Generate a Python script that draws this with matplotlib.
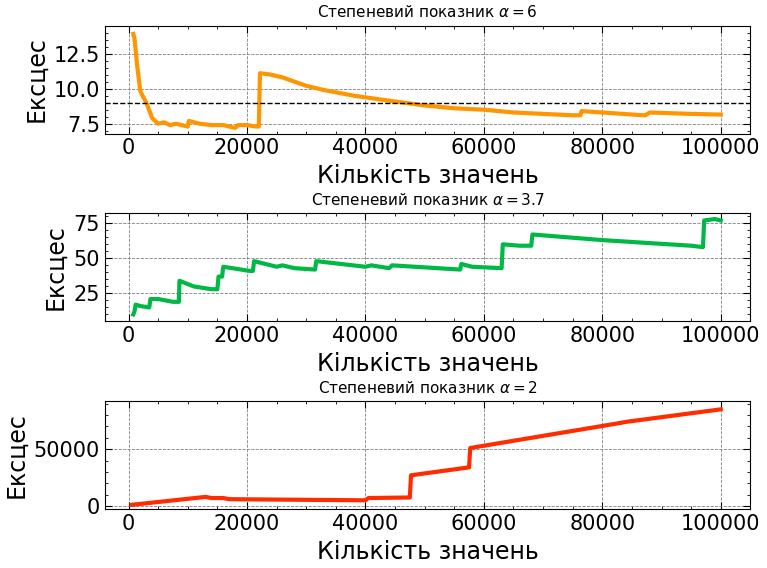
import matplotlib.pyplot as plt

# alpha = 6
x1 = [800, 1000, 1500, 2000, 3000, 4000, 5000, 6000, 7000, 8000, 9000, 10000, 10200, 12000, 14000,
      16000, 18000, 18500, 20000, 21500, 22000, 22200, 24000, 26000, 28000, 30000, 33000, 38000,
      43000, 50000, 55000, 60000, 65000, 70000, 75000, 76300, 76500, 80000, 87000, 87300, 88000,
      95000, 100000]
y1 = [13.9, 13.6, 11.5, 9.8, 9.0, 7.9, 7.5, 7.6, 7.4, 7.5, 7.4, 7.3, 7.7, 7.5, 7.4,
      7.4, 7.2, 7.4, 7.4, 7.3, 7.3, 11.1, 11.0, 10.8, 10.5, 10.2, 9.9, 9.5,
      9.2, 8.8, 8.6, 8.5, 8.3, 8.2, 8.1, 8.1, 8.4, 8.3, 8.1, 8.1, 8.3,
      8.2, 8.15]

# alpha = 3.7
x2 = [800, 1000, 1200, 2000, 3500, 3700, 5000, 7500, 8500, 8600, 11000, 14000, 15000, 15200, 15800,
      16000, 20500, 21000, 21200, 25000, 26000, 28000, 31500, 31700, 40000, 41000, 44000, 44500,
      56000, 56200, 58000, 63000, 63200, 66000, 68000, 68200, 80000, 95000, 97000, 97200, 99000,
      100000]
y2 = [10, 12, 17, 16, 15, 21, 21, 19, 19, 34, 30, 28, 28, 37, 37,
      44, 41, 41, 48, 44, 45, 43, 42, 48, 44, 45, 43, 45,
      42, 46, 44, 43, 60, 59, 59, 67, 63, 59, 58, 77, 78,
      77]

# alpha = 2
x3 = [500, 13000, 14000, 16000, 17000, 40000, 40500, 47500, 47700, 57500, 57700, 83000, 84000, 100000]
y3 = [1000, 8000, 7000, 7000, 6000, 5000, 7000, 7500, 27000, 34000, 51000, 73000, 74000, 85000]

titles = [r'Степеневий показник $\alpha=6$', r'Степеневий показник $\alpha=3.7$',
          r'Степеневий показник $\alpha=2$']
colors = ['#FF9500', '#00B945', '#FF2C00']

fig, axes = plt.subplots(3, 1, figsize=(7.67, 5.68), dpi=100)
for ax, x, y, t, c in zip(axes, [x1, x2, x3], [y1, y2, y3], titles, colors):
    ax.plot(x, y, color=c, lw=3)
    ax.set_title(t, fontsize=11)
    ax.set_xlabel('Кількість значень', fontsize=17)
    ax.set_ylabel('Ексцес', fontsize=17)
    ax.grid(True, ls='--', color='gray', lw=0.6)
    ax.minorticks_on()
    ax.tick_params(which='both', direction='in', top=True, right=True, labelsize=15)
    ax.tick_params(which='major', length=5)
    ax.tick_params(which='minor', length=2.5)
    ax.set_xlim(-4000, 105000)
    ax.set_xticks([0, 20000, 40000, 60000, 80000, 100000])

axes[0].axhline(9, color='black', ls='--', lw=1)
axes[0].set_ylim(6.8, 14.5)
axes[0].set_yticks([7.5, 10.0, 12.5])
axes[1].set_ylim(5, 82)
axes[2].set_ylim(-3000, 92000)

fig.tight_layout(pad=0.3)
fig.savefig('out.png')
